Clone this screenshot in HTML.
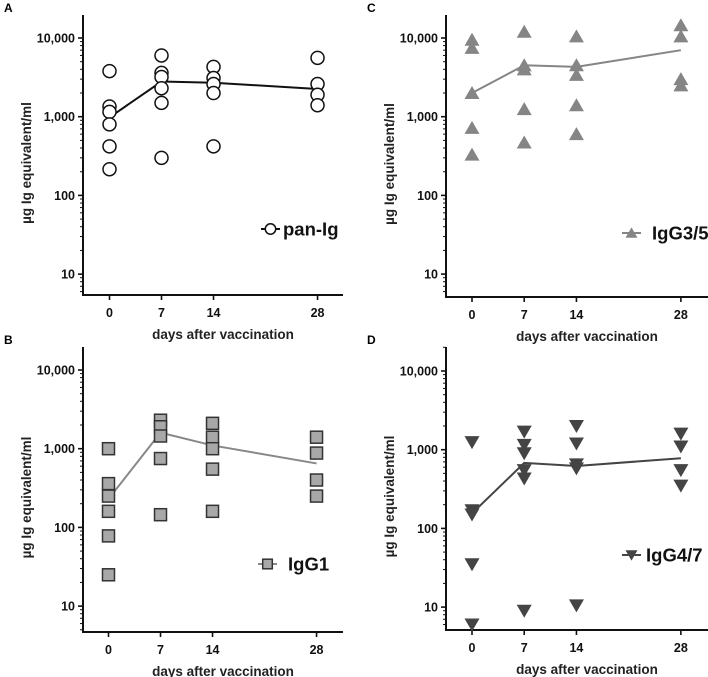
<!DOCTYPE html>
<html><head><meta charset="utf-8"><style>
html,body{margin:0;padding:0;background:#fff;}
svg{display:block;font-family:"Liberation Sans",Arial,sans-serif;font-weight:bold;}
</style></head><body>
<svg id="chart" width="708" height="677" viewBox="0 0 708 677"></svg>
<script>
const days = [0, 7, 14, 28];
const panA_points = [[3800,1350,1150,800,420,215],[6000,3600,3200,2300,1500,300],[4300,3100,2600,2000,420],[5600,2600,1900,1400]];
const panA_mean = [980, 2800, 2700, 2250];
const panC_points = [[9500,7500,2000,720,330],[12000,4500,4000,1250,470],[10500,4500,3400,1400,600],[14500,10500,3000,2500]];
const panC_mean = [2000, 4500, 4300, 7000];
const panB_points = [[1000,360,250,160,78,25],[2300,1900,1450,750,145],[2100,1400,1000,550,160],[1400,880,400,250]];
const panB_mean = [230, 1600, 1100, 650];
const panD_points = [[1250,170,150,35,6],[1700,1150,900,550,430,9],[2000,1200,650,580,10.5],[1600,1100,550,350]];
const panD_mean = [155, 680, 620, 780];
const yTicks = [10, 100, 1000, 10000];
const yTickLabels = ["10", "100", "1,000", "10,000"];
const xTickLabels = ["0", "7", "14", "28"];

const NS = "http://www.w3.org/2000/svg";
const svg = document.getElementById('chart');
function mk(tag, attrs, parent){const e=document.createElementNS(NS,tag);for(const k in attrs)e.setAttribute(k,attrs[k]);(parent||svg).appendChild(e);return e;}

const panels = [
 {id:'a',letter:'A',ax:83,top:15,bot:295,right:343,x0:109.5,ppd:7.43,y1e4:38,pts:panA_points,mean:panA_mean,name:'pan-Ig',marker:'circle',fill:'#fff',stroke:'#111',line:'#111',lx:261,ly:229,tx:283},
 {id:'c',letter:'C',ax:446,top:15,bot:297,right:708,x0:472,ppd:7.46,y1e4:38,pts:panC_points,mean:panC_mean,name:'IgG3/5',marker:'tri',fill:'#858585',stroke:'#858585',line:'#858585',lx:622,ly:233,tx:652},
 {id:'b',letter:'B',ax:83,top:347,bot:632,right:343,x0:108.5,ppd:7.43,y1e4:370,pts:panB_points,mean:panB_mean,name:'IgG1',marker:'square',fill:'#a8a8a8',stroke:'#333',line:'#888',lx:258,ly:564,tx:288},
 {id:'d',letter:'D',ax:446,top:347,bot:630,right:708,x0:472,ppd:7.46,y1e4:371,pts:panD_points,mean:panD_mean,name:'IgG4/7',marker:'dtri',fill:'#444',stroke:'#444',line:'#444',lx:622,ly:555,tx:646}
];
const DEC = 78.7;

function marker(g,type,cx,cy,p,s){
  s=s||1;let e;
  if(type==='circle') e=mk('circle',{cx:cx,cy:cy,r:6.5*s,fill:p.fill,stroke:p.stroke,'stroke-width':1.5},g);
  else if(type==='square') e=mk('rect',{x:cx-6*s,y:cy-6*s,width:12*s,height:12*s,fill:p.fill,stroke:p.stroke,'stroke-width':1.5},g);
  else if(type==='tri') e=mk('polygon',{points:`${cx},${cy-7*s} ${cx+7.5*s},${cy+6*s} ${cx-7.5*s},${cy+6*s}`,fill:p.fill},g);
  else e=mk('polygon',{points:`${cx},${cy+7*s} ${cx+7.5*s},${cy-6*s} ${cx-7.5*s},${cy-6*s}`,fill:p.fill},g);
  return e;
}

panels.forEach(p=>{
  const g=mk('g',{});
  
  
  const yS=v=>p.y1e4-(Math.log10(v)-4)*DEC;
  const xS=d=>p.x0+d*p.ppd;
  const lab=mk('text',{x:p.ax-79,y:p.top-3,'font-size':12,fill:'#000'},g);lab.textContent=p.letter;
  
  
  const ya=mk('line',{x1:p.ax,y1:p.top,x2:p.ax,y2:p.bot+1,stroke:'#111','stroke-width':2},g);
  
  
  const xa=mk('line',{x1:p.ax-1,y1:p.bot,x2:p.right,y2:p.bot,stroke:'#111','stroke-width':2},g);
  
  
  for(let dec=0;dec<=4;dec++){for(let m=1;m<=9;m++){const v=m*Math.pow(10,dec);const y=yS(v);if(y>p.bot||y<p.top)continue;
    const major=(m===1);mk('line',{x1:p.ax-(major?5:3),y1:y,x2:p.ax,y2:y,stroke:'#111','stroke-width':major?1.6:1},g);}}
  yTicks.forEach((v,i)=>{const t=mk('text',{x:p.ax-8,y:yS(v)+4.5,'text-anchor':'end','font-size':12.5,fill:'#111'},g);t.textContent=yTickLabels[i];
    
    });
  days.forEach((d,i)=>{mk('line',{x1:xS(d),y1:p.bot,x2:xS(d),y2:p.bot+5,stroke:'#111','stroke-width':1.6},g);
    const t=mk('text',{x:xS(d),y:p.bot+22,'text-anchor':'middle','font-size':12.5,fill:'#111'},g);t.textContent=xTickLabels[i];
    
    });
  const xt=mk('text',{x:(p.ax+p.right)/2+10,y:p.bot+44,'text-anchor':'middle','font-size':13.5,fill:'#222'},g);xt.textContent='days after vaccination';
  
  
  const cy=(p.top+p.bot)/2+8;
  const yt=mk('text',{x:p.ax-52,y:cy,'text-anchor':'middle','font-size':13.5,fill:'#222',transform:`rotate(-90 ${p.ax-52} ${cy})`},g);yt.textContent='µg Ig equivalent/ml';
  
  
  const pl=mk('polyline',{points:days.map((d,i)=>xS(d)+','+yS(p.mean[i])).join(' '),fill:'none',stroke:p.line,'stroke-width':2},g);
  
  
  p.pts.forEach((arr,i)=>arr.forEach(v=>{const e=marker(g,p.marker,xS(days[i]),yS(v),p);
    
    }));
  const lg=mk('g',{},g);
  
  
  mk('line',{x1:p.lx,y1:p.ly,x2:p.lx+19,y2:p.ly,stroke:p.line,'stroke-width':2},lg);
  marker(lg,p.marker,p.lx+9.5,p.ly,p,0.8);
  const lt=mk('text',{x:p.tx,y:p.ly+6.5,'font-size':18.5,fill:'#111'},lg);lt.textContent=p.name;
});
</script>
</body></html>
